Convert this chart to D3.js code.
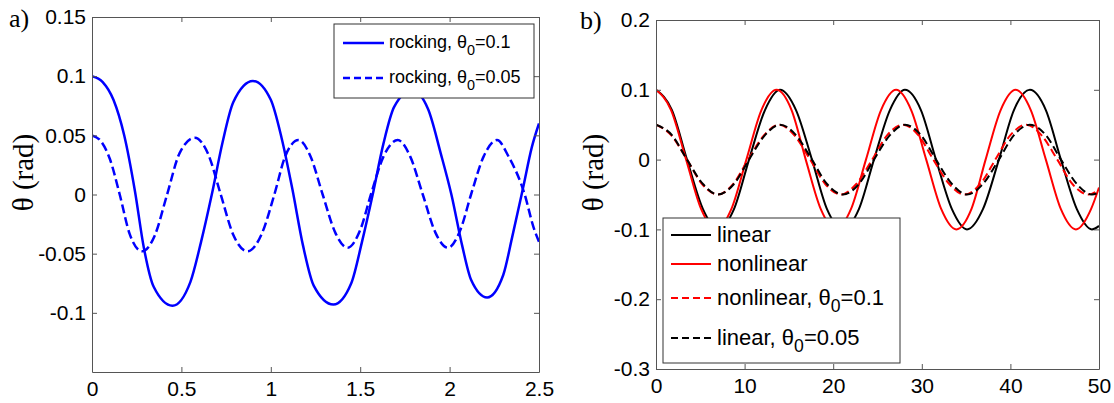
<!DOCTYPE html>
<html>
<head>
<meta charset="utf-8">
<script src="https://cdn.jsdelivr.net/npm/d3@7"></script>
<style>
    body { margin: 0; background: #fff; }
    svg { display: block; font-family: "Liberation Sans", Arial, sans-serif; }
    .tick text { fill: #000; font-size: 21px; }
    .tick line, .domain { stroke: #555; }
</style>
</head>
<body>
<svg width="1114" height="403"></svg>
<script>
// panel a: rocking response, [t, theta]
const rocking01 = [
    [0, 0.100], [0.06, 0.095], [0.12, 0.080], [0.18, 0.050], [0.24, 0.003],
    [0.29, -0.045], [0.345, -0.078], [0.45, -0.094], [0.55, -0.074], [0.61, -0.040],
    [0.67, 0.000], [0.73, 0.044], [0.79, 0.078], [0.90, 0.096], [1.00, 0.080],
    [1.06, 0.048], [1.12, 0.005], [1.18, -0.043], [1.24, -0.077], [1.35, -0.093],
    [1.45, -0.075], [1.51, -0.040], [1.57, 0.000], [1.63, 0.043], [1.69, 0.074],
    [1.79, 0.088], [1.88, 0.072], [1.95, 0.035], [2.01, 0.000], [2.07, -0.043],
    [2.12, -0.072], [2.21, -0.087], [2.30, -0.068], [2.35, -0.036], [2.41, 0.005],
    [2.46, 0.040], [2.50, 0.060]
];
const rocking005 = [
    [0, 0.050], [0.05, 0.045], [0.10, 0.030], [0.155, 0.000], [0.21, -0.033], [0.28, -0.048],
    [0.35, -0.035], [0.42, 0.000], [0.49, 0.035], [0.575, 0.048], [0.65, 0.034],
    [0.72, 0.000], [0.79, -0.034], [0.87, -0.048], [0.95, -0.033], [1.02, 0.000],
    [1.08, 0.032], [1.155, 0.046], [1.22, 0.033], [1.29, 0.000], [1.36, -0.032],
    [1.43, -0.045], [1.50, -0.030], [1.56, 0.000], [1.63, 0.032], [1.71, 0.046],
    [1.78, 0.032], [1.85, 0.000], [1.92, -0.032], [1.99, -0.045], [2.06, -0.030],
    [2.12, 0.000], [2.19, 0.032], [2.265, 0.046], [2.33, 0.032], [2.42, 0.000],
    [2.47, -0.028], [2.50, -0.040]
];

// panel b: linear vs nonlinear, [t, theta]
const linear01 = [
    [0, 0.100], [1.8, 0.071], [3.5, 0.000], [5.3, -0.071], [7.0, -0.100], [8.8, -0.071],
    [10.5, 0.000], [12.3, 0.071], [14.0, 0.100], [15.8, 0.071], [17.6, 0.000], [19.3, -0.071],
    [21.1, -0.100], [22.9, -0.071], [24.6, 0.000], [26.4, 0.071], [28.1, 0.100], [29.9, 0.071],
    [31.6, 0.000], [33.4, -0.071], [35.1, -0.100], [36.9, -0.071], [38.7, 0.000], [40.4, 0.071],
    [42.2, 0.100], [44.0, 0.071], [45.7, 0.000], [47.5, -0.071], [49.2, -0.100], [50, -0.095]
];
const nonlinear01 = [
    [0, 0.100], [1.7, 0.071], [3.4, 0.000], [5.1, -0.071], [6.8, -0.100], [8.5, -0.071],
    [10.2, 0.000], [11.9, 0.071], [13.6, 0.100], [15.3, 0.071], [16.9, 0.000], [18.6, -0.071],
    [20.3, -0.100], [22.0, -0.071], [23.7, 0.000], [25.4, 0.071], [27.1, 0.100], [28.8, 0.071],
    [30.5, 0.000], [32.2, -0.071], [33.9, -0.100], [35.6, -0.071], [37.2, 0.000], [38.9, 0.071],
    [40.6, 0.100], [42.3, 0.071], [44.0, 0.000], [45.7, -0.071], [47.4, -0.100], [49.1, -0.071],
    [50, -0.040]
];
const nonlinear005 = [
    [0, 0.050], [1.7, 0.035], [3.5, 0.000], [5.2, -0.035], [7.0, -0.050], [8.7, -0.035],
    [10.4, 0.000], [12.2, 0.035], [13.9, 0.050], [15.6, 0.035], [17.4, 0.000], [19.1, -0.035],
    [20.9, -0.050], [22.6, -0.035], [24.4, 0.000], [26.1, 0.035], [27.9, 0.050], [29.6, 0.035],
    [31.3, 0.000], [33.1, -0.035], [34.8, -0.050], [36.6, -0.035], [38.3, 0.000], [40.0, 0.035],
    [41.8, 0.050], [43.5, 0.035], [45.3, 0.000], [47.0, -0.035], [48.8, -0.050], [50, -0.043]
];
const linear005 = [
    [0, 0.050], [1.8, 0.035], [3.5, 0.000], [5.3, -0.035], [7.0, -0.050], [8.8, -0.035],
    [10.5, 0.000], [12.3, 0.035], [14.0, 0.050], [15.8, 0.035], [17.6, 0.000], [19.3, -0.035],
    [21.1, -0.050], [22.9, -0.035], [24.6, 0.000], [26.4, 0.035], [28.1, 0.050], [29.9, 0.035],
    [31.6, 0.000], [33.4, -0.035], [35.1, -0.050], [36.9, -0.035], [38.7, 0.000], [40.4, 0.035],
    [42.2, 0.050], [44.0, 0.035], [45.7, 0.000], [47.5, -0.035], [49.2, -0.050], [50, -0.047]
];

// ticks
const xTicksA = [0, 0.5, 1, 1.5, 2, 2.5];
const xLabelsA = ['0', '0.5', '1', '1.5', '2', '2.5'];
const yTicksA = [-0.1, -0.05, 0, 0.05, 0.1, 0.15];
const yLabelsA = ['-0.1', '-0.05', '0', '0.05', '0.1', '0.15'];
const xTicksB = [0, 10, 20, 30, 40, 50];
const xLabelsB = ['0', '10', '20', '30', '40', '50'];
const yTicksB = [-0.3, -0.2, -0.1, 0, 0.1, 0.2];
const yLabelsB = ['-0.3', '-0.2', '-0.1', '0', '0.1', '0.2'];

const svg = d3.select('svg');

const panels = [
    {
        id: 'a', tag: 'a)', tagX: 9, tagY: 27, titleX: 24,
        left: 92, right: 539, top: 17, bottom: 372,
        xDomain: [0, 2.5], yDomain: [-0.15, 0.15],
        xTicks: xTicksA, xLabels: xLabelsA, yTicks: yTicksA, yLabels: yLabelsA,
        width: 2.5,
        series: [
            { data: rocking01, color: '#0000ff', dash: null, name: 'rocking, ', sub: '=0.1' },
            { data: rocking005, color: '#0000ff', dash: '9,4', name: 'rocking, ', sub: '=0.05' }
        ],
        legend: { x: 334, y: 24, w: 200, h: 74, rows: [43, 78], x1: 343, x2: 384, tx: 389, fs: 18, dash: '7,4' }
    },
    {
        id: 'b', tag: 'b)', tagX: 580, tagY: 29, titleX: 594,
        left: 656, right: 1099, top: 20, bottom: 369,
        xDomain: [0, 50], yDomain: [-0.3, 0.2],
        xTicks: xTicksB, xLabels: xLabelsB, yTicks: yTicksB, yLabels: yLabelsB,
        width: 2,
        series: [
            { data: linear01, color: '#000', dash: null, name: 'linear' },
            { data: nonlinear01, color: '#ff0000', dash: null, name: 'nonlinear' },
            { data: nonlinear005, color: '#ff0000', dash: '8,4', name: 'nonlinear, ', sub: '=0.1' },
            { data: linear005, color: '#000', dash: '8,4', name: 'linear, ', sub: '=0.05' }
        ],
        legend: { x: 663, y: 218, w: 237, h: 145, rows: [235, 264, 298, 338], x1: 671, x2: 711, tx: 717, fs: 22, dash: '7,4' }
    }
];

panels.forEach(p => {
    const x = d3.scaleLinear().domain(p.xDomain).range([p.left, p.right]);
    const y = d3.scaleLinear().domain(p.yDomain).range([p.bottom, p.top]);
    const g = svg.append('g');

    g.append('clipPath').attr('id', 'clip-' + p.id)
        .append('rect')
        .attr('x', p.left).attr('y', p.top)
        .attr('width', p.right - p.left).attr('height', p.bottom - p.top);

    // curves (monotone keeps the peaks flat at the read extremes)
    const line = d3.line()
        .x(d => x(d[0]))
        .y(d => y(d[1]))
        .curve(d3.curveMonotoneX);

    g.append('g').attr('clip-path', 'url(#clip-' + p.id + ')')
        .selectAll('path')
        .data(p.series)
        .join('path')
        .attr('d', s => line(s.data))
        .attr('fill', 'none')
        .attr('stroke', s => s.color)
        .attr('stroke-width', p.width)
        .attr('stroke-dasharray', s => s.dash);

    // axes, ticks pointing inward on all four sides
    const fmtX = v => p.xLabels[p.xTicks.indexOf(v)];
    const fmtY = v => p.yLabels[p.yTicks.indexOf(v)];

    g.append('g').attr('transform', `translate(0,${p.bottom})`)
        .call(d3.axisBottom(x).tickValues(p.xTicks).tickFormat(fmtX).tickSize(-5).tickSizeOuter(0).tickPadding(9));
    g.append('g').attr('transform', `translate(${p.left},0)`)
        .call(d3.axisLeft(y).tickValues(p.yTicks).tickFormat(fmtY).tickSize(-5).tickSizeOuter(0).tickPadding(6));
    g.append('g').attr('transform', `translate(0,${p.top})`)
        .call(d3.axisTop(x).tickValues(p.xTicks).tickFormat('').tickSize(-5).tickSizeOuter(0));
    g.append('g').attr('transform', `translate(${p.right},0)`)
        .call(d3.axisRight(y).tickValues(p.yTicks).tickFormat('').tickSize(-5).tickSizeOuter(0));
    g.selectAll('.domain').attr('stroke', '#555');
    g.selectAll('.tick text').attr('font-family', '"Liberation Sans", Arial, sans-serif');

    // titles
    g.append('text')
        .attr('x', p.tagX).attr('y', p.tagY)
        .attr('font-family', '"Liberation Serif", "Times New Roman", serif')
        .attr('font-size', 26)
        .text(p.tag);

    g.append('text')
        .attr('transform', `translate(${p.titleX},${(p.top + p.bottom) / 2 - 22}) rotate(-90)`)
        .attr('text-anchor', 'middle')
        .attr('dy', '0.3em')
        .attr('font-family', '"Liberation Serif", "Times New Roman", serif')
        .attr('font-size', 29)
        .text('θ (rad)');

    // legend
    const L = p.legend;
    const lg = g.append('g');
    lg.append('rect')
        .attr('x', L.x).attr('y', L.y).attr('width', L.w).attr('height', L.h)
        .attr('fill', '#fff').attr('stroke', '#333').attr('stroke-width', 1);

    const rows = lg.selectAll('g.row')
        .data(p.series)
        .join('g').attr('class', 'row');

    rows.append('line')
        .attr('x1', L.x1).attr('x2', L.x2)
        .attr('y1', (s, i) => L.rows[i]).attr('y2', (s, i) => L.rows[i])
        .attr('stroke', s => s.color)
        .attr('stroke-width', p.width)
        .attr('stroke-dasharray', s => s.dash ? L.dash : null);

    rows.append('text')
        .attr('x', L.tx)
        .attr('y', (s, i) => L.rows[i] + L.fs * 0.3)
        .attr('font-size', L.fs)
        .each(function (s) {
            const t = d3.select(this);
            t.append('tspan').text(s.name);
            if (s.sub) {
                t.append('tspan').text('θ');
                t.append('tspan').attr('dy', L.fs * 0.35).attr('font-size', L.fs * 0.8).text('0');
                t.append('tspan').attr('dy', -L.fs * 0.35).text(s.sub);
            }
        });
});
</script>
</body>
</html>
